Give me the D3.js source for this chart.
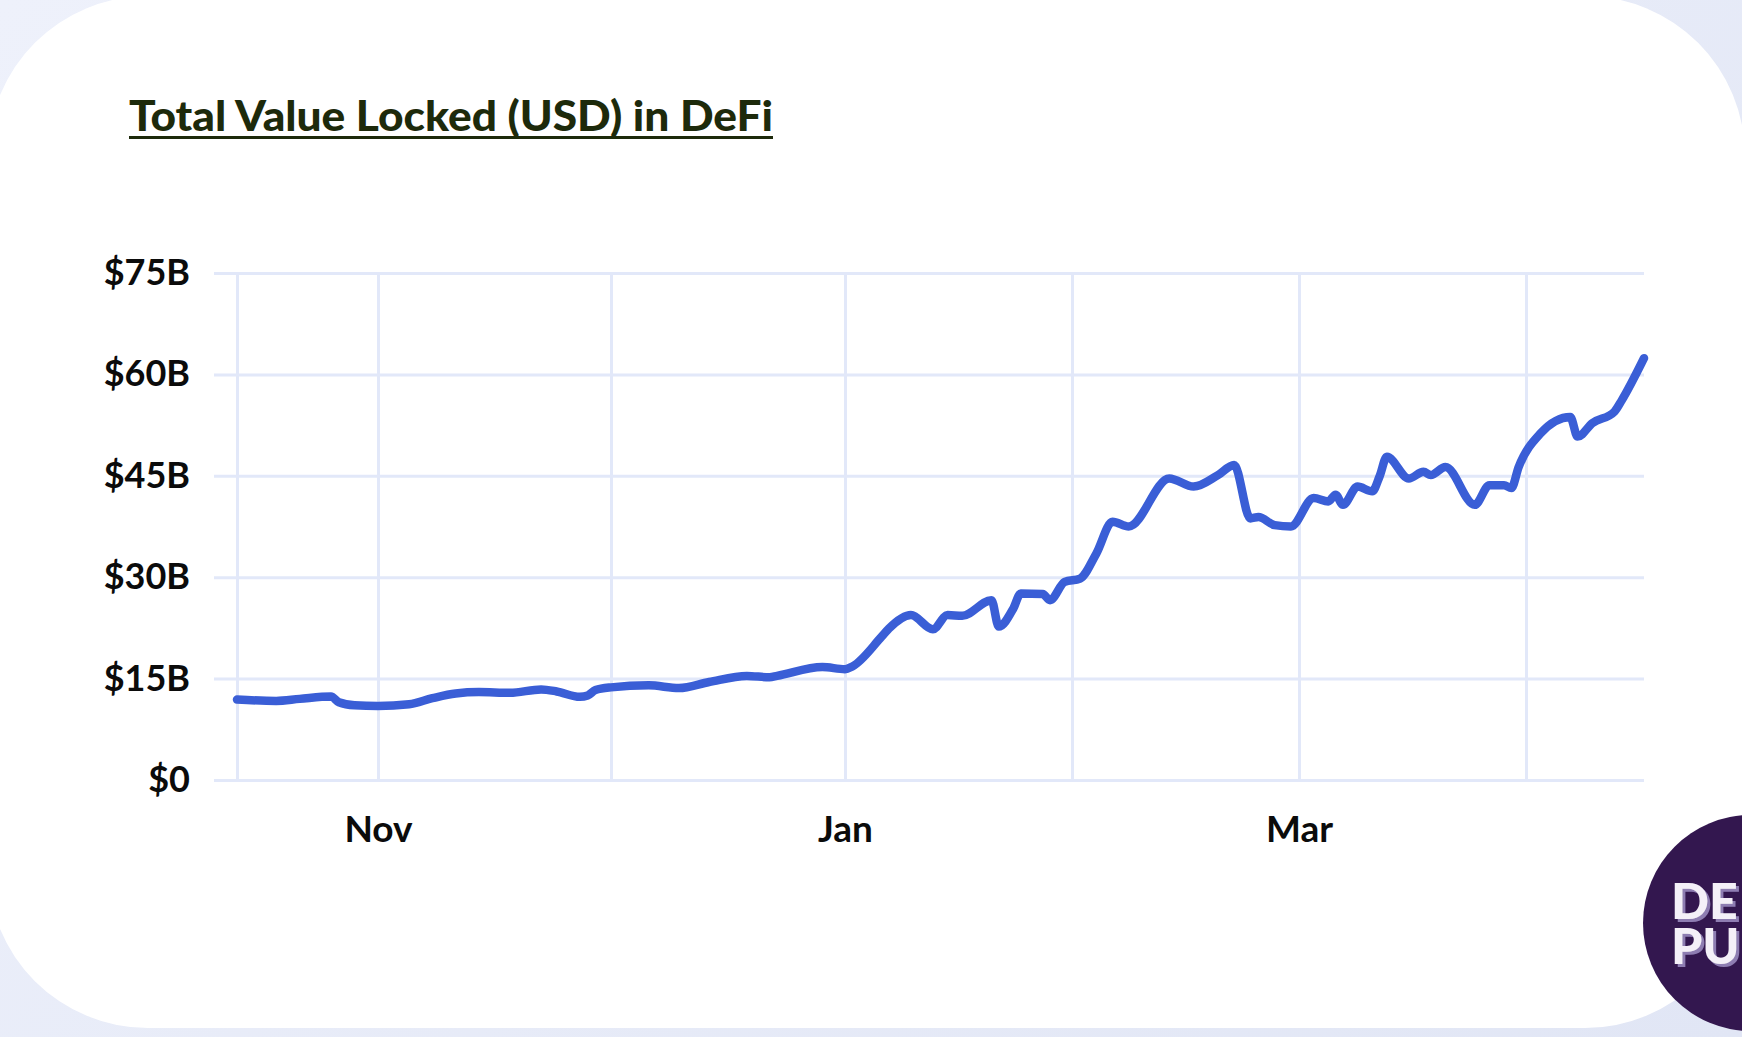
<!DOCTYPE html>
<html>
<head>
<meta charset="utf-8">
<script src="https://cdn.jsdelivr.net/npm/d3@7"></script>
<style>
  body { margin: 0; background: linear-gradient(135deg, #eef1fb, #e1e6f5); overflow: hidden; }
  svg { display: block; }
  .tick text { font-family: Lato, "Open Sans", sans-serif; font-weight: 700; fill: #0b0b0b; }
</style>
</head>
<body>
<svg width="1742" height="1037"></svg>
<script>
// TVL in DeFi, billions USD
var dates = [
  "2020-10-14","2020-10-19","2020-10-22","2020-10-26","2020-10-27","2020-10-29",
  "2020-11-01","2020-11-05","2020-11-08","2020-11-11","2020-11-14","2020-11-18",
  "2020-11-22","2020-11-24","2020-11-27","2020-11-28","2020-11-29",
  "2020-12-01","2020-12-06","2020-12-10","2020-12-14","2020-12-19","2020-12-22",
  "2020-12-23","2020-12-29",
  "2021-01-01","2021-01-02","2021-01-06","2021-01-07","2021-01-10","2021-01-13",
  "2021-01-15","2021-01-17","2021-01-21","2021-01-22","2021-01-24","2021-01-25",
  "2021-01-28","2021-01-29","2021-01-31",
  "2021-02-02","2021-02-04","2021-02-06","2021-02-08","2021-02-13","2021-02-16",
  "2021-02-19","2021-02-21","2021-02-23","2021-02-24","2021-02-26","2021-02-28",
  "2021-03-03","2021-03-05","2021-03-06","2021-03-07","2021-03-09","2021-03-11",
  "2021-03-12","2021-03-13","2021-03-16","2021-03-18","2021-03-19","2021-03-21",
  "2021-03-25","2021-03-27","2021-03-29","2021-03-30","2021-03-31",
  "2021-04-03","2021-04-07","2021-04-08","2021-04-10","2021-04-13","2021-04-14",
  "2021-04-17"
];
var tvl = [
  11.9, 11.7, 12.0, 12.35, 11.5, 11.05,
  10.95, 11.2, 12.1, 12.8, 13.0, 12.9,
  13.4, 13.1, 12.3, 12.5, 13.3,
  13.7, 14.0, 13.6, 14.5, 15.4, 15.2,
  15.4, 16.7,
  16.4, 16.8, 21.2, 22.4, 24.4, 22.3,
  24.4, 24.3, 26.6, 22.7, 25.4, 27.6,
  27.5, 26.6, 29.3,
  29.8, 33.5, 38.2, 37.5, 44.6, 43.4,
  45.1, 46.6, 38.7, 38.9, 37.7, 37.5,
  41.7, 41.2, 42.2, 40.7, 43.4, 42.7,
  44.9, 47.8, 44.6, 45.6, 45.1, 46.3,
  40.7, 43.6, 43.6, 43.2, 46.3,
  51.3, 53.7, 50.8, 52.8, 54.5, 56.2,
  62.4
];
var monthTicks = ["2020-11-01","2020-12-01","2021-01-01","2021-02-01","2021-03-01","2021-04-01"];
var monthLabels = ["Nov", "", "Jan", "", "Mar", ""];
var yTicks = [0, 15, 30, 45, 60, 75];

var parse = d3.timeParse("%Y-%m-%d");
var data = dates.map(function(d, i){ return { date: parse(d), value: tvl[i] }; });

var svg = d3.select("svg");

// 3d-ish shadow for the badge letters
var defs = svg.append("defs");
var f = defs.append("filter").attr("id", "letterShadow")
  .attr("x", "-20%").attr("y", "-20%").attr("width", "150%").attr("height", "150%");
f.append("feOffset").attr("in", "SourceAlpha").attr("dx", 3).attr("dy", 3).attr("result", "off");
f.append("feFlood").attr("flood-color", "#8e7db2").attr("result", "col");
f.append("feComposite").attr("in", "col").attr("in2", "off").attr("operator", "in").attr("result", "sh");
var fm = f.append("feMerge");
fm.append("feMergeNode").attr("in", "sh");
fm.append("feMergeNode").attr("in", "SourceGraphic");

// white card
svg.append("rect")
  .attr("x", -12).attr("y", -4)
  .attr("width", 1757).attr("height", 1032)
  .attr("rx", 160).attr("ry", 160)
  .attr("fill", "#ffffff");

// title
svg.append("text")
  .attr("x", 129).attr("y", 131)
  .attr("textLength", 644).attr("lengthAdjust", "spacingAndGlyphs")
  .style("font-family", "Lato, sans-serif")
  .style("font-weight", 900)
  .style("font-size", "42px")
  .attr("fill", "#1d2a0b")
  .text("Total Value Locked (USD) in DeFi");
svg.append("line")
  .attr("x1", 129).attr("x2", 773).attr("y1", 137.5).attr("y2", 137.5)
  .attr("stroke", "#1d2a0b").attr("stroke-width", 3);

// scales: month gridlines in the original are not quite day-proportional
var start = data[0].date, end = data[data.length - 1].date;
var x = d3.scaleTime()
  .domain([start].concat(monthTicks.map(parse), [end]))
  .range([237, 378, 611, 845, 1072, 1299, 1526, 1644]);
var y = d3.scaleLinear().domain([0, 75]).range([780, 273]);

var gridColor = "#e2e8f9";

// y axis + horizontal grid
var yAxis = svg.append("g")
  .attr("transform", "translate(214,0)")
  .call(d3.axisLeft(y)
    .tickValues(yTicks)
    .tickSize(-(1644 - 214))
    .tickPadding(24)
    .tickFormat(function(d){ return d === 0 ? "$0" : "$" + d + "B"; }));
yAxis.select(".domain").remove();
yAxis.selectAll(".tick line").attr("stroke", gridColor).attr("stroke-width", 3);
yAxis.selectAll(".tick text").style("font-size", "36px");

// x axis + vertical grid
var xAxis = svg.append("g")
  .attr("transform", "translate(0,780)")
  .call(d3.axisBottom(x)
    .tickValues([start].concat(monthTicks.map(parse)))
    .tickSize(-(780 - 273))
    .tickPadding(36)
    .tickFormat(function(d, i){ return i === 0 ? "" : monthLabels[i - 1]; }));
xAxis.select(".domain").remove();
xAxis.selectAll(".tick line").attr("stroke", gridColor).attr("stroke-width", 3);
xAxis.selectAll(".tick text").style("font-size", "37px");

// the TVL line
var line = d3.line()
  .x(function(d){ return x(d.date); })
  .y(function(d){ return y(d.value); })
  .curve(d3.curveMonotoneX);

svg.append("path")
  .datum(data)
  .attr("d", line)
  .attr("fill", "none")
  .attr("stroke", "#3a5ed6")
  .attr("stroke-width", 8.5)
  .attr("stroke-linejoin", "round")
  .attr("stroke-linecap", "round");

// DeFi Pulse badge, cut off by the right edge
var badge = svg.append("g");
badge.append("circle")
  .attr("cx", 1751).attr("cy", 923).attr("r", 108)
  .attr("fill", "#33174f");
var badgeText = badge.append("text")
  .attr("filter", "url(#letterShadow)")
  .style("font-family", "Lato, sans-serif")
  .style("font-weight", 900).style("font-size", "50px")
  .attr("fill", "#f4f0f8");
badgeText.append("tspan").attr("x", 1671).attr("y", 919).text("DE");
badgeText.append("tspan").attr("x", 1671).attr("y", 964).text("PU");
</script>
</body>
</html>
